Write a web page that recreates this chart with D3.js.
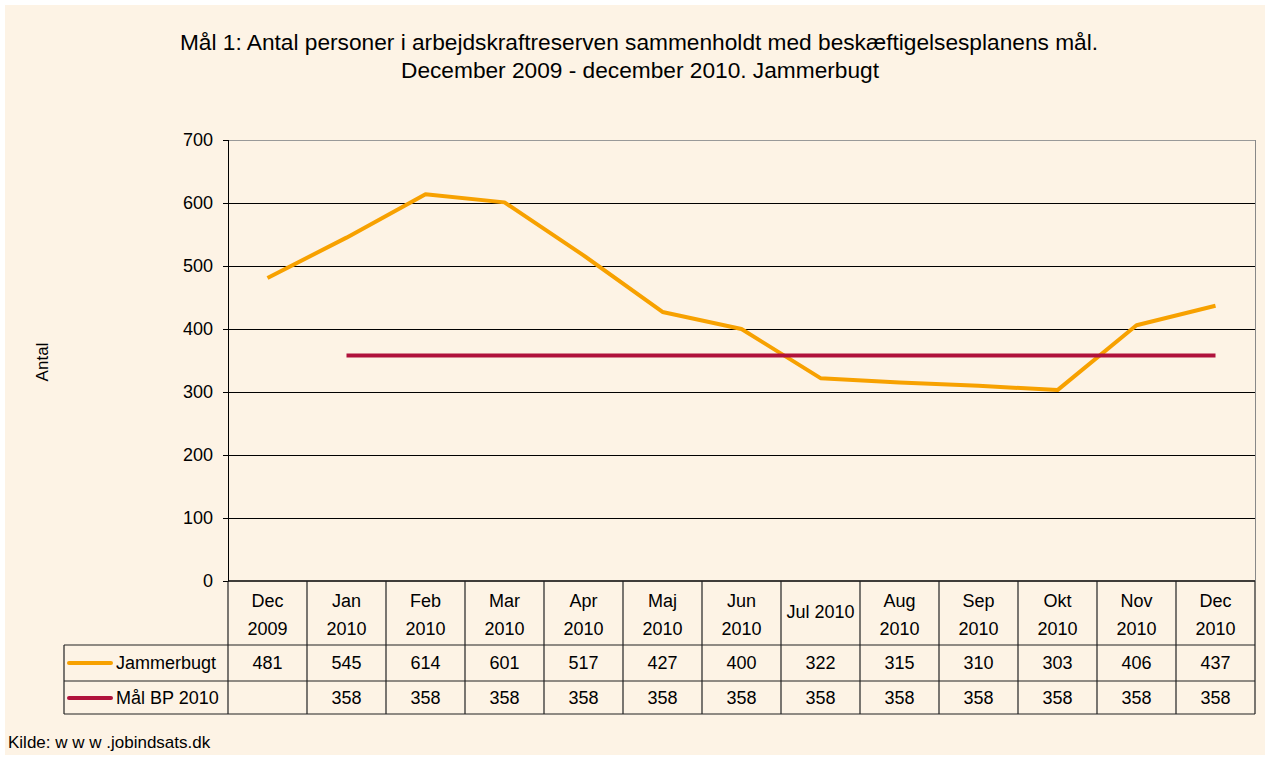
<!DOCTYPE html>
<html>
<head>
<meta charset="utf-8">
<script src="https://cdn.jsdelivr.net/npm/d3@7"></script>
<style>
  body { margin: 0; background: #fff; }
  svg { display: block; font-family: "Liberation Sans", Arial, sans-serif; }
</style>
</head>
<body>
<svg width="1270" height="758"></svg>
<script>
// data
var months = ["Dec 2009", "Jan 2010", "Feb 2010", "Mar 2010", "Apr 2010", "Maj 2010", "Jun 2010",
              "Jul 2010", "Aug 2010", "Sep 2010", "Okt 2010", "Nov 2010", "Dec 2010"];
var jammerbugt = [481, 545, 614, 601, 517, 427, 400, 322, 315, 310, 303, 406, 437];
var maal = [null, 358, 358, 358, 358, 358, 358, 358, 358, 358, 358, 358, 358];
var yTicks = [0, 100, 200, 300, 400, 500, 600, 700];
var seriesNames = ["Jammerbugt", "Mål BP 2010"];
var seriesColors = ["#F7A100", "#B0123C"];

var svg = d3.select("svg");

var plotLeft = 228, plotRight = 1255, plotTop = 140, plotBottom = 581;
var tableLeft = 64, row1 = 645, row2 = 681, row3 = 714;

svg.append("rect")
  .attr("x", 5).attr("y", 5)
  .attr("width", 1260).attr("height", 750)
  .attr("fill", "#FDF3E5");

var x = d3.scaleBand().domain(months).range([plotLeft, plotRight]);
var y = d3.scaleLinear().domain([0, 700]).range([plotBottom, plotTop]);
var cx = function(i) { return x(months[i]) + x.bandwidth() / 2; };

// gridlines
svg.append("g").attr("shape-rendering", "crispEdges").selectAll("line")
  .data(yTicks.slice(1))
  .enter().append("line")
  .attr("x1", plotLeft).attr("x2", plotRight)
  .attr("y1", function(d) { return y(d); })
  .attr("y2", function(d) { return y(d); })
  .attr("stroke", function(d) { return d == 700 ? "#999" : "#000"; })
  .attr("stroke-width", 1);

// right border
svg.append("line")
  .attr("x1", plotRight).attr("x2", plotRight).attr("y1", plotTop).attr("y2", plotBottom)
  .attr("stroke", "#888").attr("shape-rendering", "crispEdges");

// y axis
var yAxis = svg.append("g")
  .attr("transform", "translate(" + plotLeft + ",0)")
  .attr("shape-rendering", "crispEdges")
  .call(d3.axisLeft(y).tickValues(yTicks).tickSize(5).tickPadding(10));
yAxis.selectAll("path, line").attr("stroke", "#000");
yAxis.selectAll("text")
  .attr("font-size", 18)
  .attr("fill", "#000")
  .attr("font-family", "Liberation Sans, Arial, sans-serif");

// lines
var line = d3.line()
  .defined(function(d) { return d != null; })
  .x(function(d, i) { return cx(i); })
  .y(function(d) { return y(d); });

[jammerbugt, maal].forEach(function(s, k) {
  svg.append("path")
    .datum(s)
    .attr("d", line)
    .attr("fill", "none")
    .attr("stroke", seriesColors[k])
    .attr("stroke-width", 4)
    .attr("stroke-linejoin", "round");
});

// x axis line (bottom of plot / top of table)
svg.append("line")
  .attr("x1", plotLeft).attr("x2", plotRight).attr("y1", plotBottom).attr("y2", plotBottom)
  .attr("stroke", "#000").attr("stroke-width", 1.5);

// table grid
var table = svg.append("g").attr("stroke", "#222").attr("stroke-width", 1.2);
var edges = months.map(function(m) { return x(m); }).concat([plotRight]);
table.selectAll("line.v")
  .data(edges)
  .enter().append("line")
  .attr("x1", function(d) { return d; })
  .attr("x2", function(d) { return d; })
  .attr("y1", plotBottom).attr("y2", row3);
table.selectAll("line.h")
  .data([row1, row2, row3])
  .enter().append("line")
  .attr("x1", tableLeft).attr("x2", plotRight)
  .attr("y1", function(d) { return d; })
  .attr("y2", function(d) { return d; });
table.append("line")
  .attr("x1", tableLeft).attr("x2", tableLeft).attr("y1", row1).attr("y2", row3);

// month labels
var hdr = svg.append("g").attr("font-size", 18).attr("text-anchor", "middle");
months.forEach(function(m, i) {
  var parts = m.split(" ");
  if (m == "Jul 2010") {
    hdr.append("text").attr("x", cx(i)).attr("y", 618).text(m);
  } else {
    hdr.append("text").attr("x", cx(i)).attr("y", 607).text(parts[0]);
    hdr.append("text").attr("x", cx(i)).attr("y", 635).text(parts[1]);
  }
});

// value rows
[jammerbugt, maal].forEach(function(s, k) {
  var ry = k == 0 ? 669 : 704;
  var g = svg.append("g").attr("font-size", 18).attr("text-anchor", "middle");
  s.forEach(function(v, i) {
    if (v != null) g.append("text").attr("x", cx(i)).attr("y", ry).text(v);
  });
  svg.append("line")
    .attr("x1", 69).attr("x2", 111)
    .attr("y1", ry - 6).attr("y2", ry - 6)
    .attr("stroke", seriesColors[k]).attr("stroke-width", 4)
    .attr("stroke-linecap", "round");
  svg.append("text")
    .attr("x", 116).attr("y", ry)
    .attr("font-size", 18)
    .text(seriesNames[k]);
});

// titles
svg.append("text")
  .attr("x", 639).attr("y", 50)
  .attr("text-anchor", "middle").attr("font-size", 22.7)
  .text("Mål 1: Antal personer i arbejdskraftreserven sammenholdt med beskæftigelsesplanens mål.");
svg.append("text")
  .attr("x", 640).attr("y", 78)
  .attr("text-anchor", "middle").attr("font-size", 22.7)
  .text("December 2009 - december 2010. Jammerbugt");

svg.append("text")
  .attr("transform", "translate(48,362) rotate(-90)")
  .attr("text-anchor", "middle").attr("font-size", 17)
  .text("Antal");

svg.append("text")
  .attr("x", 8).attr("y", 748)
  .attr("font-size", 17)
  .text("Kilde: w w w .jobindsats.dk");
</script>
</body>
</html>
